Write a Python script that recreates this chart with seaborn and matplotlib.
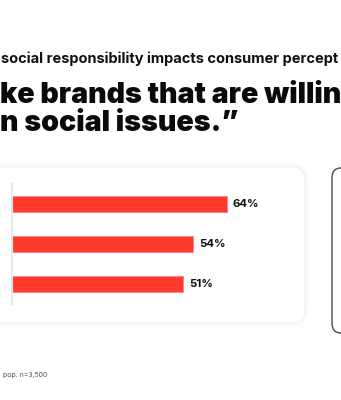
import matplotlib
matplotlib.use("Agg")
import matplotlib.pyplot as plt
from matplotlib.patches import FancyBboxPatch
import seaborn as sns
import pandas as pd

# ---- data ----
categories = ["Group 1", "Group 2", "Group 3"]
values = [64, 54, 51]
value_labels = ["64%", "54%", "51%"]

subtitle = "social responsibility impacts consumer percept"
title_line1 = "ke brands that are willin"
title_line2 = "n social issues.\u201d"
footnote = "pop. n=3,500"

sns.set_theme(style="white")
plt.rcParams["font.family"] = ["Inter", "DejaVu Sans"]

W, H = 341, 400
fig = plt.figure(figsize=(W / 100, H / 100), dpi=100)
fig.patch.set_facecolor("white")

def fx(px):
    return px / W

def fy(py):
    return 1 - py / H

# card shadow + card
for grow, alpha in [(4, 0.05), (2.5, 0.08), (1.2, 0.12)]:
    fig.patches.append(FancyBboxPatch(
        (fx(-30 - grow), fy(323 + grow)), fx(335 + 2 * grow), (156 + 2 * grow) / H,
        boxstyle="round,pad=0,rounding_size=0.04", transform=fig.transFigure,
        facecolor="#d8d8d8", edgecolor="none", alpha=alpha, zorder=0))
fig.patches.append(FancyBboxPatch(
    (fx(-30), fy(323)), fx(335), 156 / H,
    boxstyle="round,pad=0,rounding_size=0.035", transform=fig.transFigure,
    facecolor="white", edgecolor="#f0f0f0", linewidth=0.6, zorder=0))

# right outlined box
fig.patches.append(FancyBboxPatch(
    (fx(332), fy(333)), fx(40), 165 / H,
    boxstyle="round,pad=0,rounding_size=0.025", transform=fig.transFigure,
    facecolor="white", edgecolor="#4a4a4a", linewidth=1.0, zorder=0))

# bar axes
ax_left, ax_top, ax_bottom = 12, 184, 304
xmax = 80
px_per_unit = 3.36
ax = fig.add_axes([fx(ax_left), fy(ax_bottom), fx(xmax * px_per_unit), (ax_bottom - ax_top) / H])
ax.set_facecolor("none")
ax.set_zorder(5)

df = pd.DataFrame({"category": categories, "value": values})
sns.barplot(data=df, x="value", y="category", orient="h", color="#ff3b30",
            width=0.4, saturation=1, edgecolor="#ff7a72", linewidth=0.5, ax=ax)

ax.set_xlim(0, xmax)
ax.set_ylim(2.5, -0.5)
for s in ["top", "right", "bottom"]:
    ax.spines[s].set_visible(False)
ax.spines["left"].set_color("#e6e6e6")
ax.spines["left"].set_linewidth(1.5)
ax.set_xticks([])
ax.set_yticks([])
ax.set_xlabel("")
ax.set_ylabel("")

for i, (v, lab) in enumerate(zip(values, value_labels)):
    ax.annotate(lab, xy=(v, i), xytext=(4, 0), textcoords="offset points",
                va="center", ha="left", fontsize=8.2, fontweight="bold", color="#111111")

# texts
fig.text(fx(1), fy(63), subtitle, fontsize=10.5, fontweight="bold", color="#111111",
         ha="left", va="baseline")
fig.text(fx(0), fy(103), title_line1, fontsize=20.6, fontweight="black", color="#0a0a0a",
         ha="left", va="baseline")
fig.text(fx(0), fy(131), title_line2, fontsize=20.6, fontweight="black", color="#0a0a0a",
         ha="left", va="baseline")
fig.text(fx(3), fy(377), footnote, fontsize=5, color="#555555", ha="left", va="baseline")

fig.savefig("out.png", dpi=100, facecolor="white")
